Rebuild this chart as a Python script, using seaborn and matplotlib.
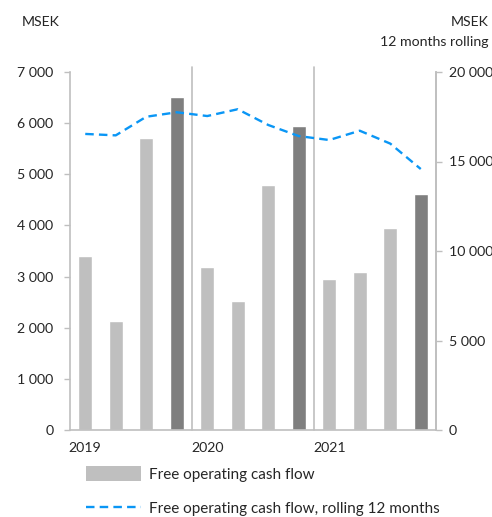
import matplotlib
matplotlib.use('Agg')
import matplotlib.pyplot as plt
from matplotlib.patches import Patch
from matplotlib.lines import Line2D
from matplotlib.ticker import FuncFormatter, FixedLocator
import seaborn as sns
import numpy as np
import pandas as pd

# quarterly data
quarters = ['2019Q1', '2019Q2', '2019Q3', '2019Q4',
            '2020Q1', '2020Q2', '2020Q3', '2020Q4',
            '2021Q1', '2021Q2', '2021Q3', '2021Q4']
cash_flow = [3400, 2130, 5700, 6520, 3180, 2525, 4790, 5950, 2950, 3090, 3950, 4620]
rolling_12m = [16540, 16460, 17500, 17750, 17540, 17920, 17040, 16420, 16200, 16720, 16000, 14580]
year_labels = ['2019', '2020', '2021']

light = '#BFBFBF'
dark = '#7F7F7F'
blue = '#0A96F5'
axis_grey = '#BFBFBF'

df = pd.DataFrame({'quarter': quarters, 'cash_flow': cash_flow, 'rolling': rolling_12m})
bar_colors = [dark if q.endswith('Q4') else light for q in quarters]

sns.set_style('white')
plt.rcParams['font.family'] = ['Lato', 'DejaVu Sans']
plt.rcParams['font.size'] = 10

fs = 10.2

fig = plt.figure(figsize=(4.92, 5.17), dpi=100)
ax = fig.add_axes([70 / 492, 87 / 517, 366 / 492, 358 / 517])

sns.barplot(data=df, x='quarter', y='cash_flow', hue='quarter', palette=bar_colors,
            legend=False, width=0.46, saturation=1, ax=ax)
ax.set_xlim(-0.5, len(quarters) - 0.5)
ax.set_ylim(0, 7000)
ax.set_yticks(range(0, 7001, 1000))
ax.yaxis.set_major_formatter(FuncFormatter(lambda v, p: f'{int(v):,}'.replace(',', ' ')))
ax.set_xlabel('')
ax.set_ylabel('')

# year labels under the first quarter, quarter boundaries as minor ticks
ax.set_xticks([0, 4, 8])
ax.set_xticklabels(year_labels)
ax.xaxis.set_minor_locator(FixedLocator(np.arange(-0.5, len(quarters), 1)))
ax.tick_params(axis='x', which='major', length=0, pad=9, labelsize=fs)
ax.tick_params(axis='x', which='minor', length=4, color=axis_grey, width=1)
ax.tick_params(axis='y', length=4, color=axis_grey, width=1, pad=8, labelsize=fs, left=True)

# year separators
for xs in [3.5, 7.5]:
    ax.axvline(xs, color=axis_grey, lw=1.2, ymax=1.015, clip_on=False)

ax.spines['top'].set_visible(False)
for side in ['left', 'bottom', 'right']:
    ax.spines[side].set_color(axis_grey)
    ax.spines[side].set_linewidth(1.2)

ax2 = ax.twinx()
sns.lineplot(x=np.arange(len(quarters)), y=df['rolling'], ax=ax2, color=blue,
             linewidth=1.7, dashes=False)
ax2.lines[0].set_dashes((3.6, 2.2))
ax2.set_ylim(0, 20000)
ax2.set_yticks(range(0, 20001, 5000))
ax2.yaxis.set_major_formatter(FuncFormatter(lambda v, p: f'{int(v):,}'.replace(',', ' ')))
ax2.set_ylabel('')
ax2.tick_params(axis='y', length=4, color=axis_grey, width=1, pad=5, labelsize=fs, right=True)
ax2.spines['top'].set_visible(False)
ax2.spines['left'].set_visible(False)
ax2.spines['bottom'].set_visible(False)
ax2.spines['right'].set_color(axis_grey)
ax2.spines['right'].set_linewidth(1.2)

fig.text(22 / 492, 1 - 22 / 517, 'MSEK', ha='left', va='center', fontsize=fs)
fig.text(489 / 492, 1 - 22 / 517, 'MSEK', ha='right', va='center', fontsize=fs)
fig.text(489 / 492, 1 - 42 / 517, '12 months rolling', ha='right', va='center', fontsize=fs)

handles = [Patch(facecolor=light, edgecolor='none'),
           Line2D([0], [0], color=blue, lw=1.7, dashes=(3.6, 2.2))]
labels = ['Free operating cash flow', 'Free operating cash flow, rolling 12 months']
fig.legend(handles, labels, loc='upper left', bbox_to_anchor=(80 / 492, 1 - 460 / 517),
           frameon=False, fontsize=11, handlelength=3.6, handleheight=1.1,
           labelspacing=1.25, handletextpad=0.5, borderaxespad=0)

fig.savefig('out.png', dpi=100)
